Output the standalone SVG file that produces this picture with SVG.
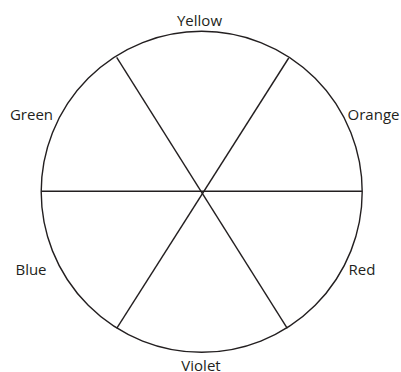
<svg xmlns="http://www.w3.org/2000/svg" width="401" height="372" viewBox="0 0 401 372">
<style>
.ln{stroke:#231f20;stroke-width:1.4;fill:none}
.lb{font-family:"Open Sans","Liberation Sans",sans-serif;font-size:15px;fill:#231f20;text-anchor:middle}
</style>
<rect width="401" height="372" fill="#fff"/>
<g id="wheel">
<circle class="ln" cx="201.7" cy="191.8" r="160.5"/>
</g>
<g id="connectors">
<line class="ln" x1="41.2" y1="191.3" x2="362.2" y2="191.3"/>
<line class="ln" x1="116.7" y1="57.3" x2="287.3" y2="328.3"/>
<line class="ln" x1="288.7" y1="58" x2="116.7" y2="328.3"/>
</g>
<g id="yellow"><text class="lb" x="199.5" y="26">Yellow</text></g>
<g id="green"><text class="lb" x="31.5" y="120">Green</text></g>
<g id="orange"><text class="lb" x="373.5" y="120">Orange</text></g>
<g id="blue"><text class="lb" x="31" y="275">Blue</text></g>
<g id="red"><text class="lb" x="362" y="275">Red</text></g>
<g id="violet"><text class="lb" x="201" y="371">Violet</text></g>
</svg>
